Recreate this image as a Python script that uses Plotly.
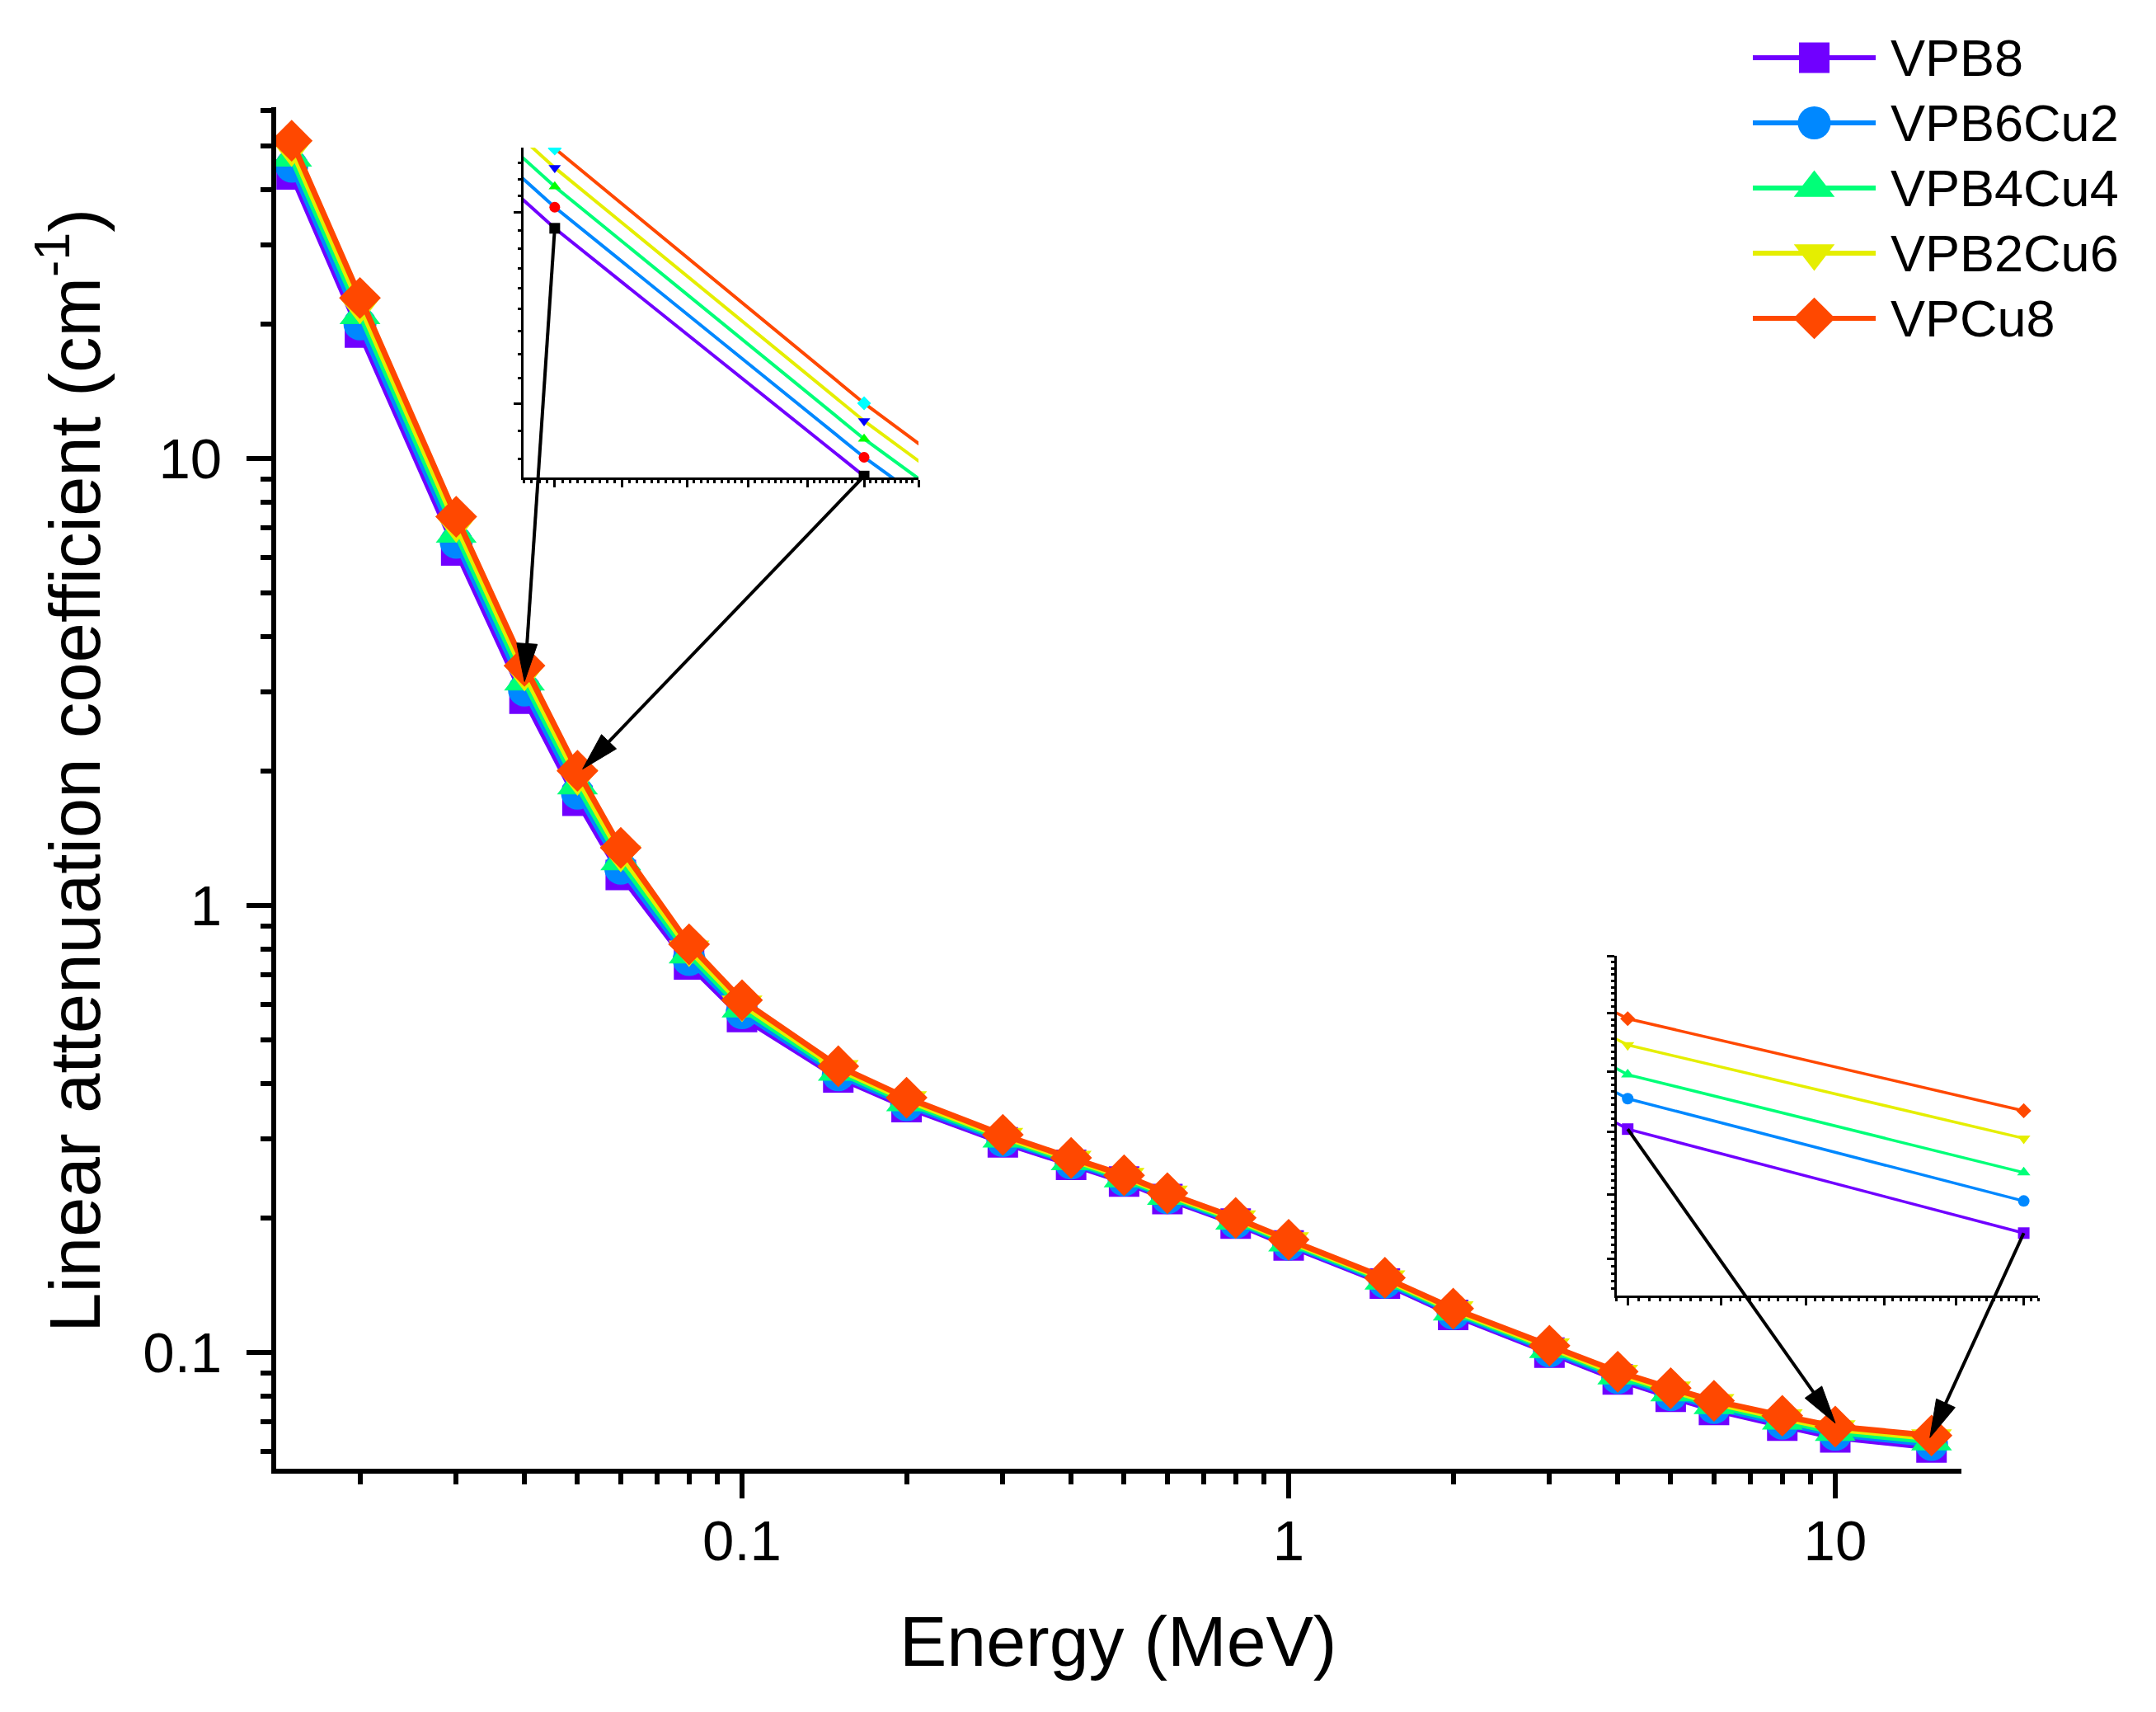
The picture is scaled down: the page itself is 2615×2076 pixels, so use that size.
import math
import plotly.graph_objects as go

W, H = 2615, 2076
OFF = 8  # page offset of the plot inside the browser window (body margin)

# ---------------- data ----------------
energy = [0.015, 0.02, 0.03, 0.04, 0.05, 0.06, 0.08, 0.1, 0.15, 0.2, 0.3, 0.4, 0.5,
          0.6, 0.8, 1, 1.5, 2, 3, 4, 5, 6, 8, 10, 15]
vpb8 = [43.2, 19.14, 6.23, 2.902, 1.715, 1.170, 0.738, 0.5633, 0.4123, 0.3539, 0.2951,
        0.2630, 0.2412, 0.2205, 0.1943, 0.1736, 0.1426, 0.1214, 0.0999, 0.0870, 0.0796,
        0.0744, 0.0686, 0.0646, 0.0613]
vpb6cu2 = [45.1, 20.01, 6.50, 3.035, 1.785, 1.212, 0.757, 0.5756, 0.4183, 0.3582, 0.2980,
           0.2654, 0.2432, 0.2221, 0.1957, 0.1749, 0.1437, 0.1224, 0.1008, 0.0879, 0.0805,
           0.0753, 0.0695, 0.0656, 0.0623]
vpb4cu4 = [47.1, 20.92, 6.79, 3.171, 1.856, 1.255, 0.777, 0.588, 0.4244, 0.3626, 0.3009,
           0.2677, 0.2452, 0.2239, 0.1972, 0.1762, 0.1448, 0.1234, 0.1017, 0.0888, 0.0814,
           0.0762, 0.0704, 0.0664, 0.0632]
vpb2cu6 = [49.2, 21.87, 7.095, 3.300, 1.928, 1.300, 0.798, 0.601, 0.4307, 0.3671, 0.3039,
           0.2701, 0.2472, 0.2256, 0.1986, 0.1775, 0.1459, 0.1244, 0.1027, 0.0897, 0.0823,
           0.0771, 0.0713, 0.0674, 0.0643]
vpcu8 = [51.4, 22.87, 7.41, 3.438, 2.002, 1.346, 0.819, 0.614, 0.437, 0.3716, 0.3069,
         0.2725, 0.2492, 0.2273, 0.2001, 0.1788, 0.147, 0.1254, 0.1036, 0.0906, 0.0832,
         0.0780, 0.0722, 0.0683, 0.0652]

names = ["VPB8", "VPB6Cu2", "VPB4Cu4", "VPB2Cu6", "VPCu8"]
values = [vpb8, vpb6cu2, vpb4cu4, vpb2cu6, vpcu8]

x_tick_vals = [0.1, 1, 10]
x_tick_text = ["0.1", "1", "10"]
y_tick_vals = [0.1, 1, 10]
y_tick_text = ["0.1", "1", "10"]

x_title = "Energy (MeV)"
y_title = "Linear attenuation coefficient (cm<sup>-1</sup>)"

# ---------------- styles ----------------
colors = ["#7000FF", "#0088FF", "#00FF78", "#E5EE00", "#FF4800"]
symbols = ["square", "circle", "triangle-up", "triangle-down", "diamond"]
main_sizes = [37, 40, 43, 43, 39]
inset1_marker_colors = ["#000000", "#FF0000", "#00FF00", "#0000FF", "#00FFFF"]
FONT = "Liberation Sans, Arial, Helvetica, sans-serif"

# ---------------- geometry (pixels, as seen in the window) ----------------
MAIN_X = (335, 2379); MAIN_Y = (130, 1781)
MAIN_XR = (-1.8522, 1.2308); MAIN_YR = (-1.260, 1.786)
IN1_X = (635, 1114); IN1_Y = (179, 579)
IN1_XR = (math.log10(0.03911), math.log10(0.052)); IN1_YR = (math.log10(1.710), math.log10(3.444))
IN2_X = (1961, 2472); IN2_Y = (1159, 1571)
IN2_XR = (math.log10(9.889), math.log10(15.222)); IN2_YR = (math.log10(0.0594), math.log10(0.0705))
LEG_X = (2126, 2275); LEG_Y = (30.5, 425.5)
LEG_TEXT_X = 2291
LEG_ROW0, LEG_ROW_STEP = 70, 79


def PX(x):
    return (x - OFF) / W


def PY(y):
    return 1 - (y - OFF) / H


def xdom(p):
    return [PX(p[0]), PX(p[1])]


def ydom(p):
    return [PY(p[1]), PY(p[0])]


def to_px(xv, yv, xr, yr, px, py):
    fx = (math.log10(xv) - xr[0]) / (xr[1] - xr[0])
    fy = (math.log10(yv) - yr[0]) / (yr[1] - yr[0])
    return px[0] + fx * (px[1] - px[0]), py[1] - fy * (py[1] - py[0])


def main_px(xv, yv):
    return to_px(xv, yv, MAIN_XR, MAIN_YR, MAIN_X, MAIN_Y)


def in1_px(xv, yv):
    return to_px(xv, yv, IN1_XR, IN1_YR, IN1_X, IN1_Y)


def in2_px(xv, yv):
    return to_px(xv, yv, IN2_XR, IN2_YR, IN2_X, IN2_Y)


fig = go.Figure()

# main curves
for nm, vals, c, s, sz in zip(names, values, colors, symbols, main_sizes):
    fig.add_trace(go.Scatter(x=energy, y=vals, name=nm, mode="lines+markers",
                             line=dict(color=c, width=7),
                             marker=dict(symbol=s, size=sz, color=c, line=dict(width=0)),
                             xaxis="x", yaxis="y", showlegend=False))

# inset 1 (0.04 - 0.05 MeV)
for nm, vals, c, s, mc in zip(names, values, colors, symbols, inset1_marker_colors):
    fig.add_trace(go.Scatter(x=energy, y=vals, name=nm, mode="lines+markers",
                             line=dict(color=c, width=4),
                             marker=dict(symbol=s, size=13, color=mc, line=dict(width=0)),
                             xaxis="x2", yaxis="y2", showlegend=False))

# inset 2 (10 - 15 MeV)
for nm, vals, c, s in zip(names, values, colors, symbols):
    fig.add_trace(go.Scatter(x=energy, y=vals, name=nm, mode="lines+markers",
                             line=dict(color=c, width=3.5),
                             marker=dict(symbol=s, size=14, color=c, line=dict(width=0)),
                             xaxis="x3", yaxis="y3", showlegend=False))

# custom legend glyphs (large markers like the original)
for i, (nm, c, s, sz) in enumerate(zip(names, colors, symbols, main_sizes)):
    fig.add_trace(go.Scatter(x=[0, 1], y=[i, i], mode="lines", line=dict(color=c, width=6),
                             xaxis="x4", yaxis="y4", showlegend=False, hoverinfo="skip",
                             cliponaxis=False))
    fig.add_trace(go.Scatter(x=[0.5], y=[i], mode="markers",
                             marker=dict(symbol=s, size=sz, color=c, line=dict(width=0)),
                             xaxis="x4", yaxis="y4", showlegend=False, hoverinfo="skip",
                             cliponaxis=False))

annotations = []
for i, nm in enumerate(names):
    annotations.append(dict(x=PX(LEG_TEXT_X), y=PY(LEG_ROW0 + LEG_ROW_STEP * i),
                            xref="paper", yref="paper", text=nm, showarrow=False,
                            xanchor="left", yanchor="middle",
                            font=dict(size=63, color="black", family=FONT)))

annotations.append(dict(x=PX(1357), y=PY(1990), xref="paper", yref="paper", text=x_title,
                        showarrow=False, xanchor="center", yanchor="middle",
                        font=dict(size=86, color="black", family=FONT)))
annotations.append(dict(x=PX(84), y=PY(935), xref="paper", yref="paper", text=y_title,
                        showarrow=False, xanchor="center", yanchor="middle", textangle=-90,
                        font=dict(size=87, color="black", family=FONT)))

# arrows (tail in inset, head on main curve)
shapes = []


def add_arrow(tail, head, lw=4, hl=46, hw=12.5):
    tx, ty = tail
    hx, hy = head
    dx, dy = hx - tx, hy - ty
    L = math.hypot(dx, dy)
    ux, uy = dx / L, dy / L
    bx, by = hx - ux * hl, hy - uy * hl
    nx, ny = -uy, ux
    ex, ey = hx - ux * hl * 0.5, hy - uy * hl * 0.5
    shapes.append(dict(type="line", xref="paper", yref="paper",
                       x0=PX(tx), y0=PY(ty), x1=PX(ex), y1=PY(ey),
                       line=dict(color="black", width=lw)))
    p1 = (bx + nx * hw, by + ny * hw)
    p2 = (bx - nx * hw, by - ny * hw)
    path = "M{:.6f},{:.6f} L{:.6f},{:.6f} L{:.6f},{:.6f} Z".format(
        PX(hx), PY(hy), PX(p1[0]), PY(p1[1]), PX(p2[0]), PY(p2[1]))
    shapes.append(dict(type="path", xref="paper", yref="paper", path=path,
                       fillcolor="black", line=dict(color="black", width=1)))


add_arrow(in1_px(energy[3], vpb8[3]), main_px(energy[3], vpb4cu4[3]))
add_arrow(in1_px(energy[4], vpb8[4]), main_px(0.0511, 2.02))
add_arrow(in2_px(energy[23], vpb8[23]), main_px(energy[23], 0.0695))
add_arrow(in2_px(energy[24], vpb8[24]), main_px(14.9, 0.0645))

# tick helpers
main_minor = [m * 10 ** e for e in (-2, -1, 0, 1) for m in range(2, 10)]
in1_x_major = [round(0.04 + 0.002 * i, 4) for i in range(7)]
in1_x_minor = [0.04 + i * 0.002 / 9 for i in range(-5, 56)]
in1_y_major = [2, 3]
in1_y_minor = [2 + i / 9 for i in range(-3, 14)]
in2_x_major = [10, 11, 12, 13, 14, 15]
in2_x_minor = [10 + i / 9 for i in range(-1, 48)]
in2_y_major = [0.0705 - 0.002 * i for i in range(6)]
in2_y_minor = [0.0705 - i * 0.002 / 9 for i in range(0, 53)]

main_axis = dict(type="log", showline=True, linewidth=6, linecolor="black", mirror=False,
                 ticks="outside", ticklen=30, tickwidth=6, tickcolor="black",
                 showgrid=False, zeroline=False, automargin=False,
                 tickfont=dict(size=69, color="black", family=FONT),
                 minor=dict(tickmode="array", tickvals=main_minor, ticks="outside",
                            ticklen=13, tickwidth=6, tickcolor="black", showgrid=False))


def inset_axis(rng, dom, anchor, major, minor):
    return dict(type="log", range=list(rng), domain=dom, anchor=anchor, showline=True,
                linewidth=3, linecolor="black", mirror=False, ticks="outside", ticklen=9,
                tickwidth=3, tickcolor="black", showgrid=False, zeroline=False,
                showticklabels=False, tickmode="array", tickvals=major,
                minor=dict(tickmode="array", tickvals=minor, ticks="outside", ticklen=4,
                           tickwidth=2.5, tickcolor="black", showgrid=False))


fig.update_layout(
    width=W, height=H,
    margin=dict(l=0, r=0, t=0, b=0, autoexpand=False),
    paper_bgcolor="white", plot_bgcolor="rgba(0,0,0,0)",
    font=dict(family=FONT, color="black"),
    showlegend=False,
    xaxis=dict(main_axis, range=list(MAIN_XR), domain=xdom(MAIN_X), anchor="y",
               tickmode="array", tickvals=x_tick_vals, ticktext=x_tick_text,
               ticklabelstandoff=-8),
    yaxis=dict(main_axis, range=list(MAIN_YR), domain=ydom(MAIN_Y), anchor="x",
               tickmode="array", tickvals=y_tick_vals, ticktext=y_tick_text,
               ticklabelstandoff=16),
    xaxis2=inset_axis(IN1_XR, xdom(IN1_X), "y2", in1_x_major, in1_x_minor),
    yaxis2=inset_axis(IN1_YR, ydom(IN1_Y), "x2", in1_y_major, in1_y_minor),
    xaxis3=inset_axis(IN2_XR, xdom(IN2_X), "y3", in2_x_major, in2_x_minor),
    yaxis3=inset_axis(IN2_YR, ydom(IN2_Y), "x3", in2_y_major, in2_y_minor),
    xaxis4=dict(range=[0, 1], domain=xdom(LEG_X), anchor="y4", visible=False),
    yaxis4=dict(range=[4.5, -0.5], domain=ydom(LEG_Y), anchor="x4", visible=False),
    annotations=annotations,
    shapes=shapes,
)

fig.write_html("out.html")
